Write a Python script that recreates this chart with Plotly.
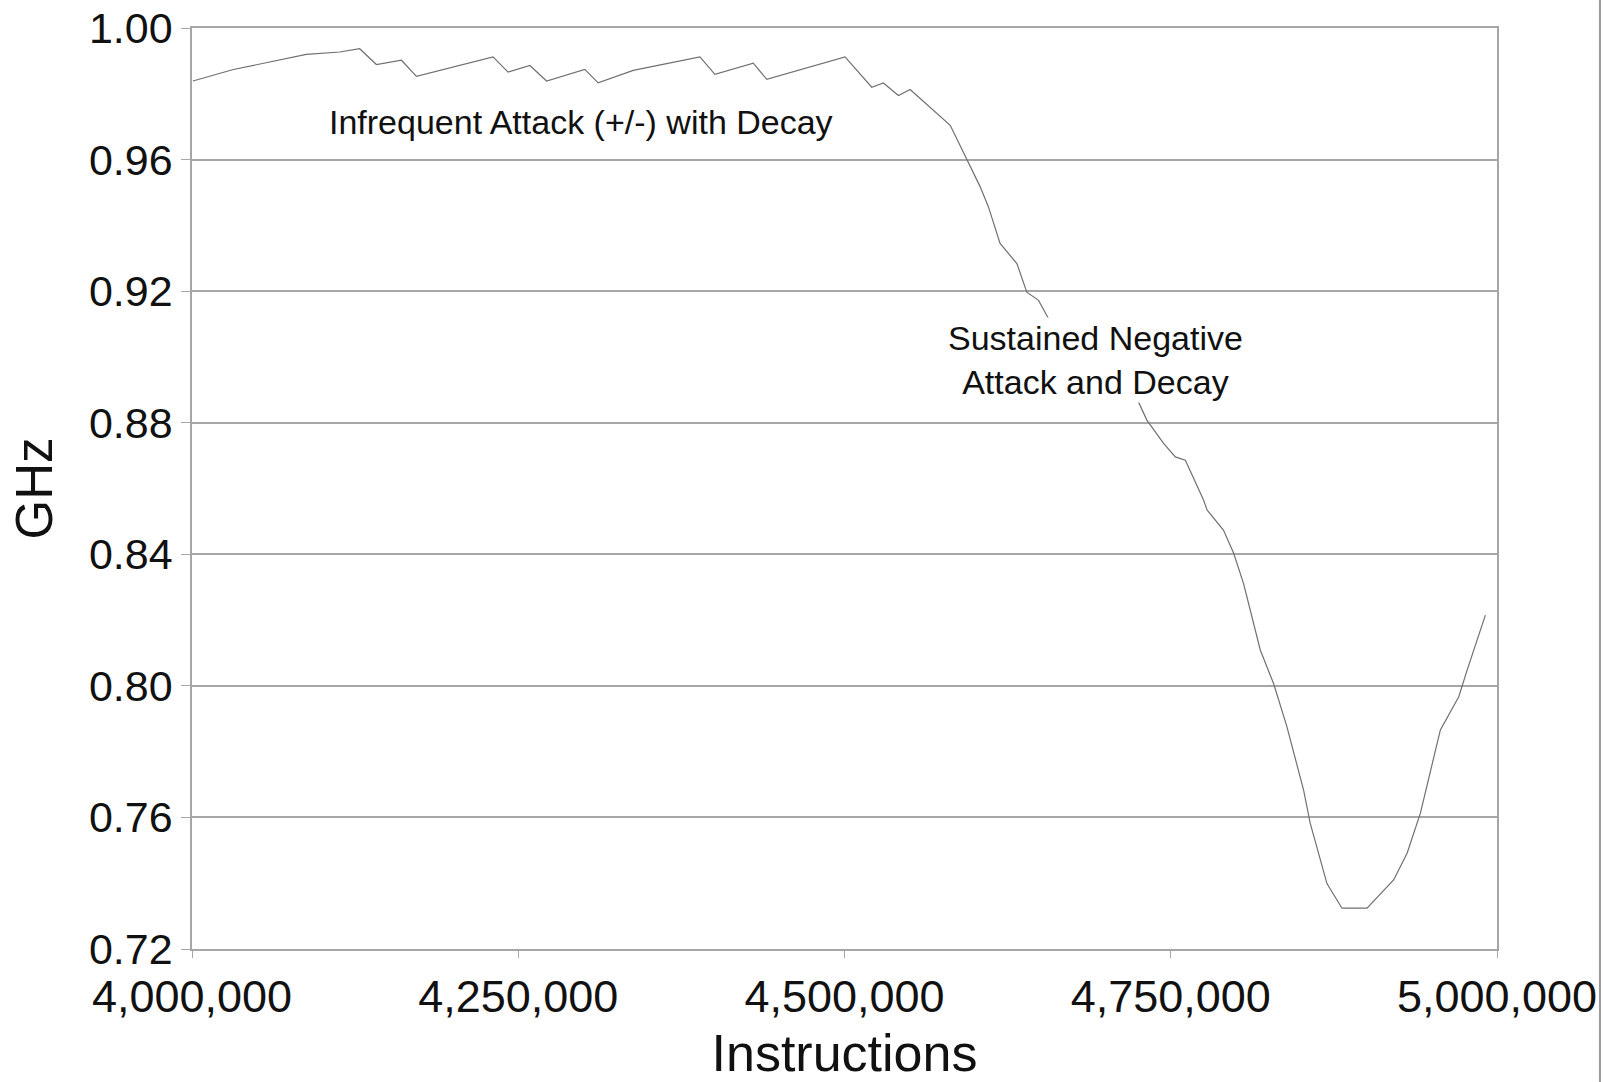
import plotly.graph_objects as go

# Instructions (x) and frequency in GHz (y)
instructions = [
    4000700, 4031000, 4087600, 4113200, 4128500, 4141300, 4160500, 4172000,
    4230700, 4242200, 4258900, 4271700, 4301000, 4311200, 4338100, 4389200,
    4400700, 4430100, 4440400, 4500400, 4520900, 4529800, 4541300, 4550300,
    4581000, 4593700, 4604000, 4610300, 4619200, 4632100, 4639700, 4648700,
    4656300, 4689900, 4724100, 4731700, 4744500, 4753500, 4761200, 4775200,
    4777800, 4790500, 4798200, 4805800, 4818600, 4828800, 4839000, 4851800,
    4856900, 4869700, 4881200, 4900400, 4920800, 4931100, 4941300, 4956600,
    4970700, 4977100, 4991100,
]
ghz = [
    0.9839, 0.9873, 0.9920, 0.9927, 0.9937, 0.9889, 0.9902, 0.9853,
    0.9912, 0.9866, 0.9886, 0.9839, 0.9874, 0.9833, 0.9871, 0.9912,
    0.9859, 0.9893, 0.9844, 0.9912, 0.9820, 0.9833, 0.9795, 0.9813,
    0.9704, 0.9603, 0.9517, 0.9456, 0.9345, 0.9284, 0.9197, 0.9172,
    0.9117, 0.8995, 0.8873, 0.8808, 0.8737, 0.8696, 0.8686, 0.8564,
    0.8535, 0.8473, 0.8403, 0.8311, 0.8109, 0.8007, 0.7876, 0.7683,
    0.7582, 0.7399, 0.7324, 0.7324, 0.7410, 0.7491, 0.7613, 0.7866,
    0.7967, 0.8048, 0.8215,
]

x_ticks = [4000000, 4250000, 4500000, 4750000, 5000000]
x_tick_labels = ["4,000,000", "4,250,000", "4,500,000", "4,750,000", "5,000,000"]
y_ticks = [0.72, 0.76, 0.80, 0.84, 0.88, 0.92, 0.96, 1.00]
y_tick_labels = ["0.72", "0.76", "0.80", "0.84", "0.88", "0.92", "0.96", "1.00"]

FONT = "Liberation Sans, Arial, Helvetica, sans-serif"
GRID = "#a6a6a6"

fig = go.Figure()
fig.add_trace(go.Scatter(
    x=instructions, y=ghz, mode="lines",
    line=dict(color="#707070", width=1.2),
    showlegend=False, hoverinfo="skip",
))

fig.update_layout(
    width=1605, height=1082,
    margin=dict(l=192, r=108, t=28, b=133, autoexpand=False),
    paper_bgcolor="white", plot_bgcolor="white",
    font=dict(family=FONT, color="#111111"),
    xaxis=dict(
        range=[4000000, 5000000], automargin=False,
        tickvals=x_ticks, ticktext=x_tick_labels,
        tickfont=dict(size=45, family=FONT, color="#111111"),
        showgrid=False, zeroline=False,
        showline=True, linecolor=GRID, linewidth=2, mirror=True,
        ticks="outside", ticklen=7, tickcolor=GRID, tickwidth=1,
        title=dict(text="Instructions", font=dict(size=52, family=FONT, color="#111111"), standoff=16),
    ),
    yaxis=dict(
        range=[0.72, 1.00], automargin=False,
        tickvals=y_ticks, ticktext=y_tick_labels,
        tickfont=dict(size=43, family=FONT, color="#111111"),
        showgrid=True, gridcolor=GRID, gridwidth=1.5,
        zeroline=False,
        showline=True, linecolor=GRID, linewidth=1.5, mirror=True,
        ticks="outside", ticklen=9, tickcolor=GRID, tickwidth=1,
        title=dict(text="GHz", font=dict(size=51, family=FONT, color="#111111"), standoff=20),
    ),
    annotations=[
        dict(x=4298000, y=0.9713, xref="x", yref="y",
             text="Infrequent Attack (+/-) with Decay", showarrow=False,
             font=dict(size=34, family=FONT, color="#111111"), bgcolor="white"),
        dict(x=4692200, y=0.8990, xref="x", yref="y",
             text="Sustained Negative<br>Attack and Decay", showarrow=False,
             font=dict(size=34, family=FONT, color="#111111"), bgcolor="white"),
    ],
    shapes=[
        dict(type="line", xref="paper", yref="paper",
             x0=1.0789, x1=1.0789, y0=-0.1444, y1=1.0304,
             line=dict(color="#9a9a9a", width=2)),
    ],
)

fig.write_html("out.html")
